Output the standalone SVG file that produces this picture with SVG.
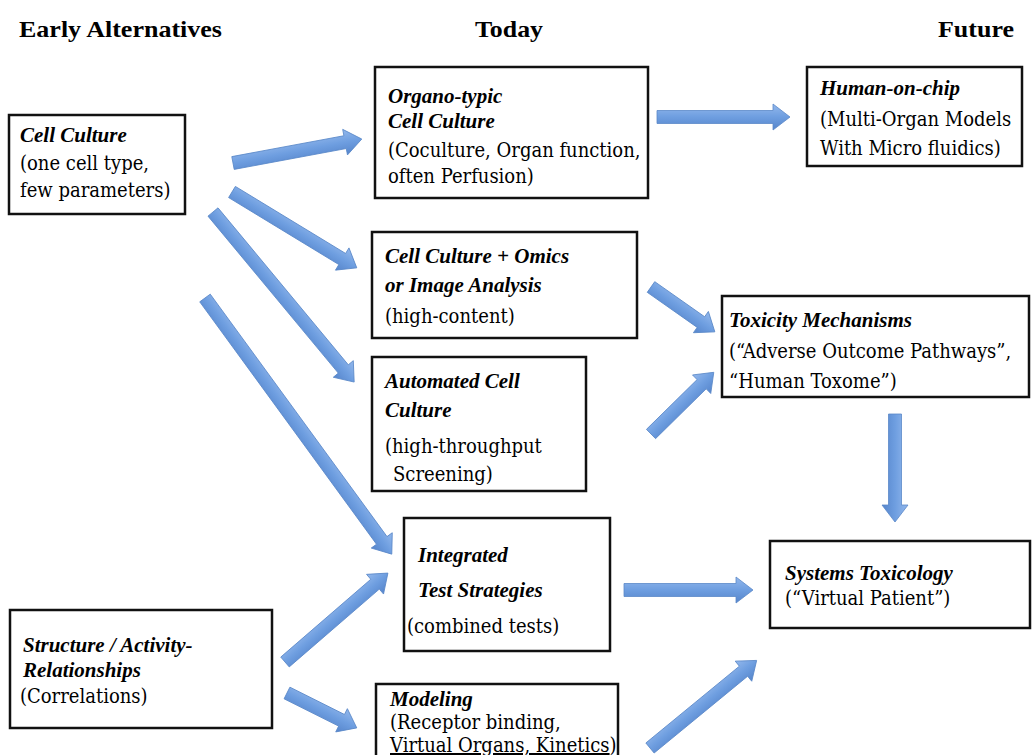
<svg xmlns="http://www.w3.org/2000/svg" width="1032" height="755" viewBox="0 0 1032 755">
<defs>
<linearGradient id="ag" x1="0" y1="0" x2="0" y2="1">
<stop offset="0" stop-color="#93b8ec"/>
<stop offset="0.5" stop-color="#6e9ee0"/>
<stop offset="1" stop-color="#5685cb"/>
</linearGradient>
<style>
.box{fill:#fff;stroke:#111;stroke-width:2.5}
.hd{font-family:"Liberation Serif","Times New Roman",serif;font-weight:bold;font-size:24px;fill:#000}
.t{font-family:"DejaVu Serif Condensed","DejaVu Serif",serif;font-stretch:condensed;font-size:20px;fill:#000}
.b{font-family:"Liberation Serif","Times New Roman",serif;font-size:21px;font-weight:bold;font-style:italic}
.arr{fill:url(#ag);stroke:#5a88c8;stroke-width:0.8}
</style>
</defs>
<rect width="1032" height="755" fill="#fff"/>
<g id="headers">
<text class="hd" x="19" y="37" textLength="203" lengthAdjust="spacingAndGlyphs">Early Alternatives</text>
<text class="hd" x="475" y="37" textLength="68" lengthAdjust="spacingAndGlyphs">Today</text>
<text class="hd" x="938" y="37" textLength="76" lengthAdjust="spacingAndGlyphs">Future</text>
</g>
<g id="connectors">
<path class="arr" transform="translate(233,163) rotate(-10.54)" d="M0,-6.5 L114,-6.5 L114,-13 L131,0 L114,13 L114,6.5 L0,6.5 Z"/>
<path class="arr" transform="translate(232,192) rotate(31.3)" d="M0,-6.5 L129,-6.5 L129,-13 L146,0 L129,13 L129,6.5 L0,6.5 Z"/>
<path class="arr" transform="translate(213,212) rotate(50.3)" d="M0,-6.5 L204,-6.5 L204,-13 L221,0 L204,13 L204,6.5 L0,6.5 Z"/>
<path class="arr" transform="translate(205,298) rotate(53.9)" d="M0,-6.5 L300,-6.5 L300,-13 L317,0 L300,13 L300,6.5 L0,6.5 Z"/>
<path class="arr" transform="translate(285,662) rotate(-40.83)" d="M0,-6.5 L119,-6.5 L119,-13 L136,0 L119,13 L119,6.5 L0,6.5 Z"/>
<path class="arr" transform="translate(287,693) rotate(26.57)" d="M0,-6.5 L61,-6.5 L61,-13 L78,0 L61,13 L61,6.5 L0,6.5 Z"/>
<path class="arr" transform="translate(657,117)" d="M0,-6.5 L116,-6.5 L116,-13 L133,0 L116,13 L116,6.5 L0,6.5 Z"/>
<path class="arr" transform="translate(651,287) rotate(35.1)" d="M0,-6.5 L61,-6.5 L61,-13 L78,0 L61,13 L61,6.5 L0,6.5 Z"/>
<path class="arr" transform="translate(651,434) rotate(-44.5)" d="M0,-6.5 L71,-6.5 L71,-13 L88,0 L71,13 L71,6.5 L0,6.5 Z"/>
<path class="arr" transform="translate(895,414) rotate(90)" d="M0,-6.5 L91,-6.5 L91,-13 L108,0 L91,13 L91,6.5 L0,6.5 Z"/>
<path class="arr" transform="translate(624,590)" d="M0,-6.5 L112,-6.5 L112,-13 L129,0 L112,13 L112,6.5 L0,6.5 Z"/>
<path class="arr" transform="translate(650,748) rotate(-39.4)" d="M0,-6.5 L121,-6.5 L121,-13 L138,0 L121,13 L121,6.5 L0,6.5 Z"/>
</g>
<g id="cell-culture">
<rect class="box" x="9" y="115" width="176" height="99"/>
<text class="b" x="20" y="142">Cell Culture</text>
<text class="t" x="20" y="170">(one cell type,</text>
<text class="t" x="20" y="197">few parameters)</text>
</g>
<g id="organotypic">
<rect class="box" x="375" y="67" width="273" height="131"/>
<text class="b" x="388" y="103">Organo-typic</text>
<text class="b" x="388" y="128">Cell Culture</text>
<text class="t" x="388" y="157">(Coculture, Organ function,</text>
<text class="t" x="388" y="183">often Perfusion)</text>
</g>
<g id="human-on-chip">
<rect class="box" x="807" y="67" width="215" height="99"/>
<text class="b" x="820" y="95">Human-on-chip</text>
<text class="t" x="820" y="126">(Multi-Organ Models</text>
<text class="t" x="820" y="155">With Micro fluidics)</text>
</g>
<g id="omics">
<rect class="box" x="372" y="232" width="265" height="106"/>
<text class="b" x="385" y="263">Cell Culture + Omics</text>
<text class="b" x="385" y="292">or Image Analysis</text>
<text class="t" x="385" y="323">(high-content)</text>
</g>
<g id="automated">
<rect class="box" x="372" y="357" width="214" height="134"/>
<text class="b" x="385" y="388">Automated Cell</text>
<text class="b" x="385" y="417">Culture</text>
<text class="t" x="385" y="453">(high-throughput</text>
<text class="t" x="393" y="481">Screening)</text>
</g>
<g id="toxicity">
<rect class="box" x="722" y="296" width="307" height="101"/>
<text class="b" x="729" y="327">Toxicity Mechanisms</text>
<text class="t" x="729" y="358">(“Adverse Outcome Pathways”,</text>
<text class="t" x="729" y="388">“Human Toxome”)</text>
</g>
<g id="integrated">
<rect class="box" x="404" y="518" width="206" height="133"/>
<text class="b" x="418" y="562">Integrated</text>
<text class="b" x="418" y="597">Test Strategies</text>
<text class="t" x="407" y="633">(combined tests)</text>
</g>
<g id="systems">
<rect class="box" x="770" y="541" width="260" height="87"/>
<text class="b" x="785" y="580">Systems Toxicology</text>
<text class="t" x="785" y="605">(“Virtual Patient”)</text>
</g>
<g id="structure">
<rect class="box" x="10" y="610" width="262" height="118"/>
<text class="b" x="23" y="652">Structure / Activity-</text>
<text class="b" x="23" y="677">Relationships</text>
<text class="t" x="20" y="703">(Correlations)</text>
</g>
<g id="modeling">
<rect class="box" x="376" y="684" width="242" height="90"/>
<text class="b" x="390" y="706">Modeling</text>
<text class="t" x="390" y="729">(Receptor binding,</text>
<text class="t" x="390" y="752"><tspan text-decoration="underline">Virtual Organs, Kinetics</tspan>)</text>
</g>
</svg>
